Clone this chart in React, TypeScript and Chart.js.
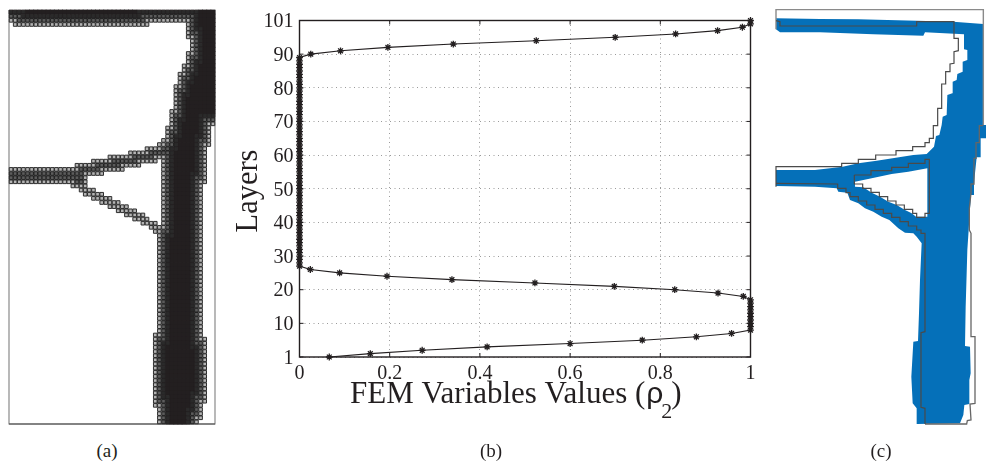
import React, { useEffect, useRef } from "react";
import { Chart, registerables } from "chart.js";

Chart.register(...registerables);

const INK = "#231f20";
const SERIF = "'Liberation Serif', serif";

// ---------- (a) mesh: 50 columns x 100 rows, solid cells per row ----------
const meshColumns = 50;
const meshRows = 100;
const solidStart = [
  0, 0, 0, 1, 43, 43, 43, 44, 44, 44,
  43, 43, 43, 42, 42, 41, 41, 41, 40, 40,
  40, 40, 40, 40, 39, 39, 39, 39, 38, 38,
  38, 37, 36, 33, 29, 24, 20, 16, 0, 0,
  0, 0, 15, 17, 18, 20, 22, 24, 26, 28,
  30, 32, 34, 35, 36, 36, 36, 36, 36, 36,
  36, 36, 36, 36, 36, 36, 36, 36, 36, 36,
  36, 36, 36, 36, 36, 36, 36, 36, 35, 35,
  35, 35, 35, 35, 35, 35, 35, 35, 35, 35,
  35, 35, 35, 35, 35, 35, 36, 36, 36, 36,
];
const solidEnd = [
  50, 50, 50, 50, 50, 50, 50, 50, 50, 50,
  50, 50, 50, 50, 50, 50, 50, 50, 50, 50,
  50, 50, 50, 50, 50, 50, 50, 50, 49, 49,
  49, 49, 49, 48, 48, 48, 48, 48, 48, 48,
  48, 48, 47, 47, 47, 47, 47, 47, 47, 47,
  47, 47, 47, 47, 47, 47, 47, 47, 47, 47,
  47, 47, 47, 47, 47, 47, 47, 47, 47, 47,
  47, 47, 47, 47, 47, 47, 47, 47, 47, 48,
  48, 48, 48, 48, 48, 48, 48, 48, 48, 48,
  48, 48, 48, 48, 48, 47, 47, 47, 47, 46,
];
const gapRows = [3, 36, 37, 38, 39, 40, 41, 42, 43, 44, 45, 46, 47, 48, 49, 50, 51];
const gapFrom = [34, 36, 32, 28, 23, 19, 19, 19, 21, 23, 25, 27, 29, 31, 33, 34, 36];
const gapTo = [43, 37, 37, 37, 37, 37, 37, 37, 37, 37, 37, 37, 37, 37, 37, 37, 37];

// ---------- (b) plot ----------
const rhoValues = [
  0.066, 0.157, 0.272, 0.416, 0.6, 0.76, 0.88, 0.958, 1, 1,
  1, 1, 1, 1, 1, 1, 1, 1, 0.984, 0.928,
  0.832, 0.698, 0.522, 0.338, 0.194, 0.089, 0.024, 0, 0, 0,
  0, 0, 0, 0, 0, 0, 0, 0, 0, 0,
  0, 0, 0, 0, 0, 0, 0, 0, 0, 0,
  0, 0, 0, 0, 0, 0, 0, 0, 0, 0,
  0, 0, 0, 0, 0, 0, 0, 0, 0, 0,
  0, 0, 0, 0, 0, 0, 0, 0, 0, 0,
  0, 0, 0, 0, 0, 0, 0, 0, 0, 0,
  0.025, 0.091, 0.196, 0.341, 0.525, 0.7, 0.834, 0.927, 0.982, 1,
  1,
];
const yTickPositions = [1, 11, 21, 31, 41, 51, 61, 71, 81, 91, 101];
const yTickLabels = ["1", "10", "20", "30", "40", "50", "60", "70", "80", "90", "101"];
const xTickLabels = ["0", "0.2", "0.4", "0.6", "0.8", "1"];
const yTitle = "Layers";
const xTitleParts = ["FEM Variables Values (", "\u03c1", "2", ")"];
const captions = ["(a)", "(b)", "(c)"];

// ---------- (c) contours, in drawing units of the panel ----------
const bluePolygon: number[][] = [
  [18, 55], [150, 57], [265, 58], [440, 62], [550, 65], [640, 72], [640, 375], [648, 375], [648, 415], [632, 415],
  [632, 472], [620, 472], [615, 520], [612, 550], [612, 585], [603, 585], [600, 625], [596, 690], [592, 750], [590, 820],
  [587, 920], [585, 1038], [600, 1040], [602, 1120], [598, 1140], [598, 1212], [583, 1215], [580, 1245], [570, 1270], [440, 1272],
  [440, 1225], [428, 1210], [424, 1130], [430, 1025], [444, 1023], [447, 940], [450, 840], [455, 730], [440, 710], [430, 700],
  [405, 698], [385, 685], [358, 660], [335, 650], [310, 635], [285, 625], [265, 610], [240, 600], [232, 578], [205, 575],
  [200, 565], [135, 560], [18, 558], [18, 510], [135, 510], [218, 500], [265, 490], [320, 482], [430, 465], [470, 462],
  [492, 440], [498, 408], [508, 405], [515, 375], [518, 350], [530, 345], [532, 285], [547, 280], [548, 245], [560, 240],
  [562, 222], [578, 215], [578, 185], [592, 180], [592, 150], [582, 148], [582, 103], [465, 97], [460, 107], [310, 103],
  [150, 97], [30, 97], [18, 88],
];
const holePolygon: number[][] = [
  [255, 545], [305, 535], [365, 522], [415, 515], [472, 505], [472, 650], [438, 650], [425, 640], [405, 630], [380, 615],
  [355, 605], [330, 590], [305, 578], [280, 562], [255, 560],
];
const outerFrame: number[][] = [
  [18, 88], [18, 29], [640, 29], [640, 375],
];
const rightContour: number[][] = [
  [640, 377], [628, 377], [628, 428], [618, 428], [618, 475], [612, 475], [612, 552], [603, 552], [603, 580], [598, 625],
  [598, 690], [603, 700], [603, 1010], [615, 1010], [615, 1210], [600, 1212], [603, 1260], [592, 1262], [590, 1272], [465, 1272],
];
const leftContour: number[][] = [
  [18, 62], [30, 65], [30, 78], [440, 78], [440, 65], [552, 65], [552, 115], [565, 115], [565, 152], [552, 155],
  [552, 190], [540, 192], [540, 215], [527, 215], [527, 252], [515, 252], [515, 325], [503, 325], [503, 377], [490, 377],
  [490, 415], [478, 415], [478, 428], [465, 428], [465, 440], [428, 440], [428, 452], [378, 452], [378, 465], [317, 465],
  [317, 478], [265, 478], [265, 490], [215, 490], [215, 500], [18, 500], [18, 560],
];
const lowerContour: number[][] = [
  [18, 550], [203, 552], [203, 565], [228, 565], [228, 578], [240, 578], [240, 590], [265, 590], [265, 603], [290, 603],
  [290, 615], [315, 615], [315, 628], [340, 628], [340, 640], [365, 640], [365, 652], [390, 652], [390, 665], [415, 665],
  [415, 678], [440, 678], [440, 690], [453, 690], [453, 700], [465, 700], [465, 995], [453, 998], [453, 1222], [465, 1225],
  [465, 1272],
];
const voidContour: number[][] = [
  [253, 525], [253, 552], [278, 552], [278, 565], [303, 565], [303, 577], [328, 577], [328, 590], [353, 590], [353, 603],
  [378, 603], [378, 615], [403, 615], [403, 628], [428, 628], [428, 640], [440, 640], [440, 652], [465, 652], [465, 640],
  [478, 640], [478, 478], [465, 478], [465, 490], [415, 490], [415, 502], [365, 502], [365, 512], [303, 512], [303, 525],
  [253, 525],
];

const toPoints = (list: number[][]) => list.map(([x, y]) => ({ x, y }));

function meshCells() {
  const solid = (c: number, r: number) => {
    if (c < 0 || c >= meshColumns || r < 0 || r >= meshRows) return true;
    if (c < solidStart[r] || c >= solidEnd[r]) return false;
    const g = gapRows.indexOf(r);
    return !(g >= 0 && c >= gapFrom[g] && c < gapTo[g]);
  };
  const depth = (c: number, r: number) => {
    for (let d = 1; d <= 3; d++) {
      for (let i = -d; i <= d; i++) {
        for (let j = -d; j <= d; j++) {
          if (!solid(c + i, r + j)) return d;
        }
      }
    }
    return 4;
  };
  const rings: { x: number; y: number }[][] = [[], [], [], []];
  for (let r = 0; r < meshRows; r++) {
    for (let c = 0; c < meshColumns; c++) {
      if (solid(c, r)) rings[depth(c, r) - 1].push({ x: c + 0.5, y: r + 0.5 });
    }
  }
  return rings;
}

const hiddenScale = (min: number, max: number, reverse = false) => ({
  type: "linear" as const,
  display: false,
  min,
  max,
  reverse,
});

const baseOptions = {
  responsive: false,
  animation: false as const,
  events: [] as string[],
  plugins: { legend: { display: false }, tooltip: { enabled: false } },
};

const plotDecor = {
  id: "plotDecor",
  afterDatasetsDraw(chart: any) {
    const { ctx, chartArea: a, scales } = chart;
    ctx.save();
    ctx.strokeStyle = INK;
    ctx.lineWidth = 1.4;
    ctx.strokeRect(a.left, a.top, a.right - a.left, a.bottom - a.top);
    ctx.lineWidth = 1;
    ctx.beginPath();
    for (const t of scales.y.ticks) {
      const y = scales.y.getPixelForValue(t.value);
      ctx.moveTo(a.left, y);
      ctx.lineTo(a.left + 4, y);
      ctx.moveTo(a.right, y);
      ctx.lineTo(a.right - 4, y);
    }
    for (const t of scales.x.ticks) {
      const x = scales.x.getPixelForValue(t.value);
      ctx.moveTo(x, a.top);
      ctx.lineTo(x, a.top + 4);
      ctx.moveTo(x, a.bottom);
      ctx.lineTo(x, a.bottom - 4);
    }
    ctx.stroke();

    ctx.fillStyle = INK;
    ctx.textBaseline = "alphabetic";
    ctx.textAlign = "left";
    let x = 120;
    ctx.font = `31px ${SERIF}`;
    ctx.fillText(xTitleParts[0], x, 403);
    x += ctx.measureText(xTitleParts[0]).width;
    ctx.font = "30px 'Liberation Sans', sans-serif";
    ctx.fillText(xTitleParts[1], x + 1, 403);
    x += ctx.measureText(xTitleParts[1]).width - 1;
    ctx.font = `22px ${SERIF}`;
    ctx.fillText(xTitleParts[2], x, 418);
    x += ctx.measureText(xTitleParts[2]).width - 1;
    ctx.font = `31px ${SERIF}`;
    ctx.fillText(xTitleParts[3], x, 403);

    ctx.save();
    ctx.translate(27, 191);
    ctx.rotate(-Math.PI / 2);
    ctx.textAlign = "center";
    ctx.font = `30.5px ${SERIF}`;
    ctx.fillText(yTitle, 0, 0);
    ctx.restore();
    ctx.restore();
  },
};

export default function App() {
  const meshRef = useRef<HTMLCanvasElement>(null);
  const plotRef = useRef<HTMLCanvasElement>(null);
  const contourRef = useRef<HTMLCanvasElement>(null);

  useEffect(() => {
    const rings = meshCells();
    const ringStyle = [
      { fill: "#b4b4b4", line: "#2e2e2e", r: 2.55, w: 1 },
      { fill: "#5c5c5c", line: "#222222", r: 2.55, w: 1 },
      { fill: "#2a2a2a", line: INK, r: 2.8, w: 0.9 },
      { fill: INK, line: INK, r: 3.5, w: 0 },
    ];
    const mesh = new Chart(meshRef.current!, {
      type: "scatter",
      data: {
        datasets: [
          {
            data: [{ x: 0, y: 0 }, { x: 0, y: 100 }, { x: 50, y: 100 }, { x: 50, y: 0 }],
            showLine: true,
            borderColor: "#8a8a8a",
            borderWidth: 1.2,
            pointRadius: 0,
            clip: false,
            order: 5,
          },
          {
            data: [{ x: 0, y: 100 }, { x: 50, y: 100 }],
            showLine: true,
            borderColor: "#444444",
            borderWidth: 1.2,
            pointRadius: 0,
            clip: false,
            order: 4,
          },
          ...rings.map((cells, i) => ({
            data: cells,
            pointStyle: "rect",
            pointRadius: ringStyle[i].r,
            pointBackgroundColor: ringStyle[i].fill,
            pointBorderColor: ringStyle[i].line,
            pointBorderWidth: ringStyle[i].w,
            clip: false,
            order: i,
          })),
        ],
      },
      options: {
        ...baseOptions,
        layout: { padding: { left: 4, right: 4, top: 4, bottom: 4 } },
        scales: { x: hiddenScale(0, meshColumns), y: hiddenScale(0, meshRows, true) },
      },
    } as any);

    const plot = new Chart(plotRef.current!, {
      type: "scatter",
      data: {
        datasets: [
          {
            data: rhoValues.map((v, i) => ({ x: v, y: i + 1 })),
            showLine: true,
            borderColor: INK,
            borderWidth: 1.1,
            pointStyle: "star",
            pointRadius: 3.4,
            pointBorderColor: INK,
            pointBackgroundColor: INK,
            pointBorderWidth: 1.3,
            clip: false,
          },
        ],
      },
      options: {
        ...baseOptions,
        layout: { padding: { left: 0, right: 19.5, top: 20.5, bottom: 0 } },
        scales: {
          x: {
            type: "linear",
            min: 0,
            max: 1,
            afterFit: (s: any) => { s.height = 107; },
            border: { display: false, dash: [1, 3.5] },
            grid: { color: "#9a9a9a", drawTicks: false, lineWidth: 1 },
            ticks: {
              stepSize: 0.2,
              padding: 5,
              maxRotation: 0,
              autoSkip: false,
              color: INK,
              font: { family: SERIF, size: 20 },
              callback: (_v: any, i: number) => xTickLabels[i],
            },
          },
          y: {
            type: "linear",
            min: 1,
            max: 101,
            afterBuildTicks: (s: any) => { s.ticks = yTickPositions.map((value) => ({ value })); },
            afterFit: (s: any) => { s.width = 69.5; },
            border: { display: false, dash: [1, 3.5] },
            grid: { color: "#9a9a9a", drawTicks: false, lineWidth: 1 },
            ticks: {
              padding: 6,
              labelOffset: 1.5,
              autoSkip: false,
              color: INK,
              font: { family: SERIF, size: 20 },
              callback: (_v: any, i: number) => yTickLabels[i],
            },
          },
        },
      },
      plugins: [plotDecor],
    } as any);

    const lineSet = (list: number[][], color: string, width: number, order: number) => ({
      data: toPoints(list),
      showLine: true,
      borderColor: color,
      borderWidth: width,
      pointRadius: 0,
      tension: 0,
      clip: false,
      order,
    });
    const contour = new Chart(contourRef.current!, {
      type: "scatter",
      data: {
        datasets: [
          {
            data: toPoints(bluePolygon),
            showLine: true,
            fill: "shape",
            backgroundColor: "#0570b9",
            borderColor: "#0570b9",
            borderWidth: 0,
            pointRadius: 0,
            order: 9,
          },
          {
            data: toPoints(holePolygon),
            showLine: true,
            fill: "shape",
            backgroundColor: "#ffffff",
            borderColor: "#ffffff",
            borderWidth: 0,
            pointRadius: 0,
            order: 8,
          },
          lineSet(outerFrame, "#8a8a8a", 1.4, 3),
          lineSet(rightContour, "#666666", 1.3, 2),
          lineSet(leftContour, "#4a4a4a", 1.2, 1),
          lineSet(lowerContour, "#4a4a4a", 1.2, 1),
          lineSet(voidContour, "#4a4a4a", 1.2, 1),
        ],
      },
      options: {
        ...baseOptions,
        layout: { padding: 0 },
        scales: { x: hiddenScale(0, 648), y: hiddenScale(0, 1392, true) },
      },
    } as any);

    return () => {
      mesh.destroy();
      plot.destroy();
      contour.destroy();
    };
  }, []);

  const abs = (left: number, top: number): React.CSSProperties => ({
    position: "absolute",
    left,
    top,
    display: "block",
  });
  const captionX = [107, 491, 881];

  return (
    <div style={{ position: "absolute", left: 0, top: 0, width: 986, height: 464, background: "#fff", overflow: "hidden" }}>
      <canvas ref={meshRef} width={216} height={424} style={abs(4, 5)} />
      <canvas ref={plotRef} width={540} height={464} style={abs(230, 0)} />
      <canvas ref={contourRef} width={216} height={464} style={abs(770, 0)} />
      {captions.map((c, i) => (
        <div
          key={c}
          style={{
            position: "absolute",
            left: captionX[i] - 30,
            width: 60,
            top: 440,
            textAlign: "center",
            fontFamily: SERIF,
            fontSize: 19,
            lineHeight: "22px",
            color: INK,
          }}
        >
          {c}
        </div>
      ))}
    </div>
  );
}
